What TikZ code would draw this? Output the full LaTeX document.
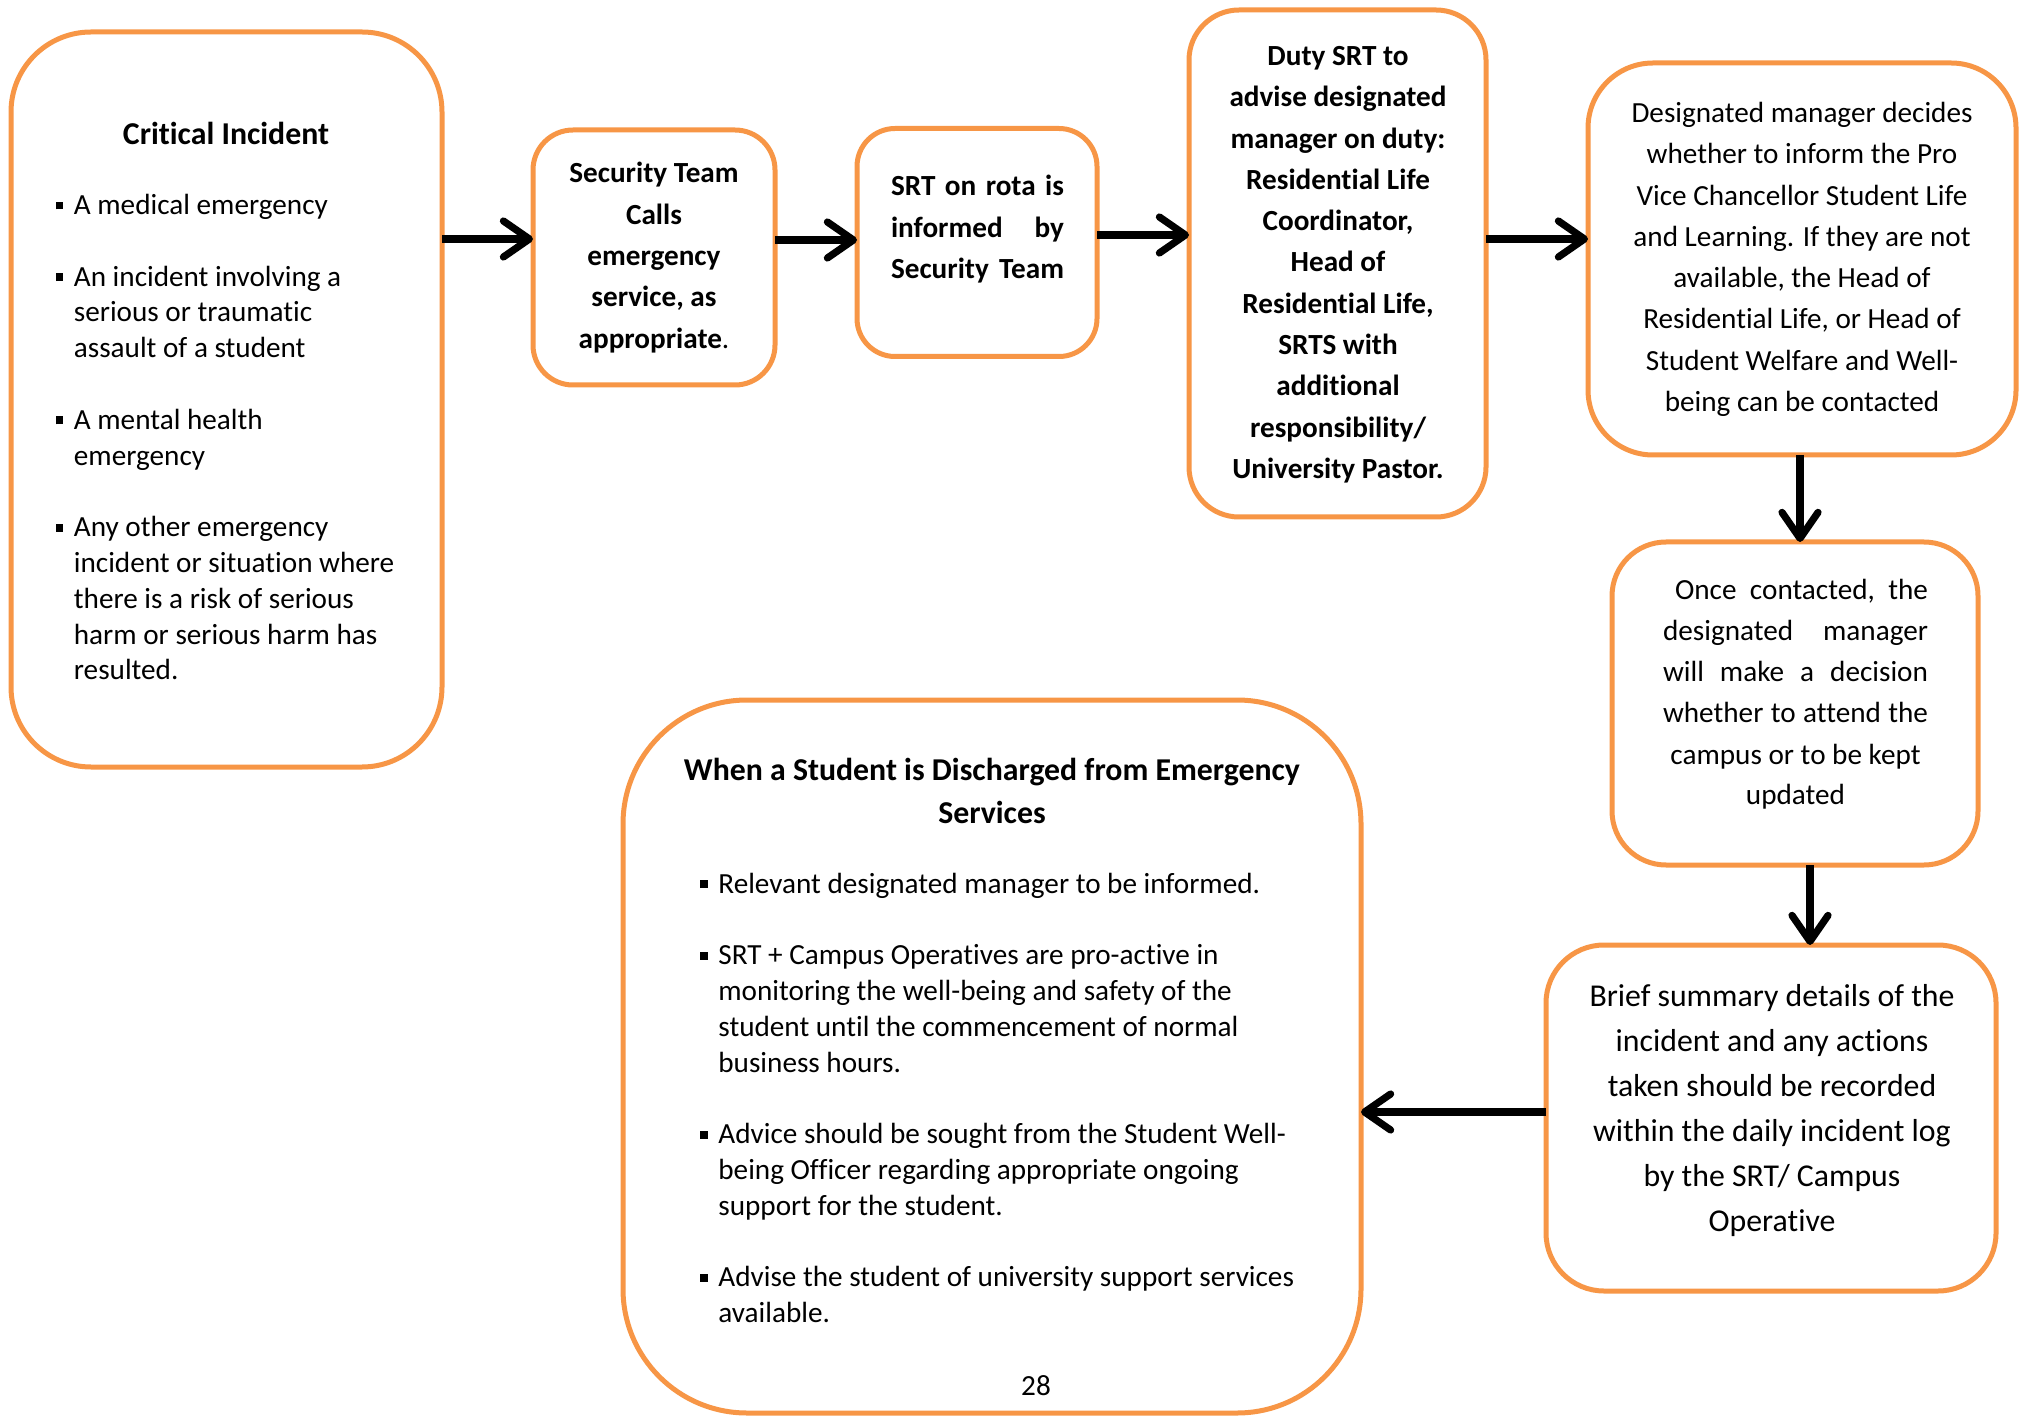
\documentclass[tikz,border=0pt]{standalone}
\usepackage{fontspec}
\setmainfont{Carlito}[Ligatures={NoCommon,NoRare,NoContextual}]
\usetikzlibrary{arrows.meta}
\definecolor{boxorange}{HTML}{F79646}
\newcommand{\fA}{\fontsize{14.6pt}{17.9pt}\selectfont}
\newcommand{\fB}{\fontsize{14.6pt}{20.65pt}\selectfont}
\newcommand{\fC}{\fontsize{15.9pt}{22.5pt}\selectfont}
\newcommand{\fT}{\fontsize{15.9pt}{21.5pt}\selectfont\bfseries}
\newcommand{\bul}{\makebox[9.2pt][l]{\rule[2.5pt]{3.9pt}{3.9pt}}}
\newcommand{\ind}{\hspace*{9.2pt}}
\begin{document}
\begin{tikzpicture}[x=0.5pt,y=-0.5pt,
  box/.style={draw=boxorange, line width=2.5pt, rounded corners=#1, fill=white, inner sep=0pt, outer sep=0pt},
  txt/.style={inner sep=0pt, outer sep=0pt},
  arr/.style={line width=3.6pt, -{Straight Barb[length=13pt, width=18pt, round]}}]
\useasboundingbox (0,0) rectangle (2022,1416);
% boxes
\node[box=40pt, minimum width=215.5pt, minimum height=367.5pt] (b1) at (226.5,399.5) {};
\node[box=20pt, minimum width=121pt, minimum height=127.5pt] (b2) at (654,257.5) {};
\node[box=19pt, minimum width=120pt, minimum height=114pt] (b3) at (977,242.5) {};
\node[box=25pt, minimum width=148.5pt, minimum height=253.5pt] (b4) at (1337.5,263.5) {};
\node[box=32.5pt, minimum width=214pt, minimum height=196pt] (b5) at (1802,259) {};
\node[box=27pt, minimum width=183pt, minimum height=161.5pt] (b6) at (1795,703.5) {};
\node[box=29pt, minimum width=225pt, minimum height=173pt] (b7) at (1771,1118) {};
\node[box=62pt, minimum width=369pt, minimum height=356.5pt] (b8) at (992,1056.5) {};
% texts
\node[txt, anchor=base] (t1h) at (226,145) {\fT Critical Incident};
\node[txt, anchor=base west] (t1) at (55.5,214.5) {\parbox[t]{200pt}{\raggedright\fA
 \bul A medical emergency\\[17.9pt]
 \bul An incident involving a\\ \ind serious or traumatic\\ \ind assault of a student\\[17.9pt]
 \bul A mental health\\ \ind emergency\\[17.9pt]
 \bul Any other emergency\\ \ind incident or situation where\\ \ind there is a risk of serious\\ \ind harm or serious harm has\\ \ind resulted.}};
\node[txt, anchor=base] (t2) at (654,183) {\parbox[t]{115pt}{\centering\fB\bfseries
 Security Team\\ Calls\\ emergency\\ service, as\\ appropriate{\mdseries.}}};
\node[txt, anchor=base] (t3) at (977.5,196) {\parbox[t]{86.5pt}{\fB\bfseries
 \makebox[86.5pt][s]{SRT on rota is}\\
 \makebox[86.5pt][s]{informed\hfill by}\\
 \makebox[86.5pt][s]{Security Team}}};
\node[txt, anchor=base] (t4) at (1338,65.5) {\parbox[t]{145pt}{\centering\fB\bfseries
 Duty SRT to\\ advise designated\\ manager on duty:\\ Residential Life\\ Coordinator,\\ Head of\\ Residential Life,\\ SRTS with\\ additional\\ responsibility/\\ University Pastor.}};
\node[txt, anchor=base] (t5) at (1802,122.5) {\parbox[t]{210pt}{\centering\fB
 Designated manager decides\\ whether to inform the Pro\\ Vice Chancellor Student Life\\ and Learning. If they are not\\ available, the Head of\\ Residential Life, or Head of\\ Student Welfare and Well-\\ being can be contacted}};
\node[txt, anchor=base] (t6) at (1795.5,600) {\parbox[t]{132.5pt}{\centering\fontsize{14.6pt}{20.5pt}\selectfont
 \makebox[\linewidth][s]{\hspace{6pt}Once\hfill contacted,\hfill the}\\
 \makebox[\linewidth][s]{designated\hfill manager}\\
 \makebox[\linewidth][s]{will\hfill make\hfill a\hfill decision}\\
 \makebox[\linewidth][s]{whether to attend the}\\
 campus or to be kept\\ updated}};
\node[txt, anchor=base] (t7) at (1772,1006) {\parbox[t]{220pt}{\centering\fC
 Brief summary details of the\\ incident and any actions\\ taken should be recorded\\ within the daily incident log\\ by the SRT/ Campus\\ Operative}};
\node[txt, anchor=base] (t8h) at (992,780) {\parbox[t]{360pt}{\centering\fT
 When a Student is Discharged from Emergency\\ Services}};
\node[txt, anchor=base west] (t8) at (700,893) {\parbox[t]{320pt}{\raggedright\fontsize{14.6pt}{17.9pt}\selectfont
 \bul Relevant designated manager to be informed.\\[17.9pt]
 \bul SRT + Campus Operatives are pro-active in\\ \ind monitoring the well-being and safety of the\\ \ind student until the commencement of normal\\ \ind business hours.\\[17.9pt]
 \bul Advice should be sought from the Student Well-\\ \ind being Officer regarding appropriate ongoing\\ \ind support for the student.\\[17.9pt]
 \bul Advise the student of university support services\\ \ind available.}};
\node[txt, anchor=base] (pg) at (1036,1395) {\fA 28};
% arrows
\draw[arr] (b1.east |- 0,239) -- (b2.west |- 0,239);
\draw[arr] (b2.east |- 0,240) -- (b3.west |- 0,240);
\draw[arr] (b3.east |- 0,235) -- (b4.west |- 0,235);
\draw[arr] (b4.east |- 0,239) -- (b5.west |- 0,239);
\draw[arr] (b5.south -| 1800,0) -- (b6.north -| 1800,0);
\draw[arr] (b6.south -| 1810,0) -- (b7.north -| 1810,0);
\draw[arr] (b7.west |- 0,1112) -- (b8.east |- 0,1112);
\end{tikzpicture}
\end{document}
